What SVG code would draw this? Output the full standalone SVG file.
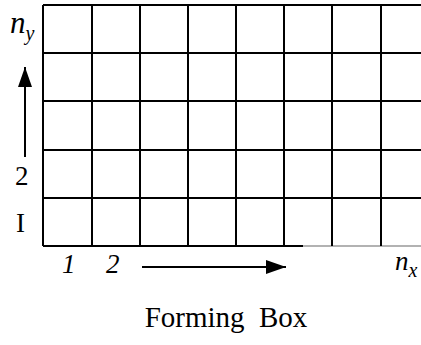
<svg xmlns="http://www.w3.org/2000/svg" width="421" height="345" viewBox="0 0 421 345">
<style>
.g{stroke:#000;stroke-width:2;fill:none}
.t{font-family:"Liberation Serif","Times New Roman","DejaVu Serif",serif;font-size:27px;fill:#000}
.i{font-style:italic}
.n{font-size:31px}
.s{font-size:20px}
.c{font-size:29px}
</style>
<defs>
<marker id="ah2" markerWidth="20" markerHeight="14" refX="20" refY="7" orient="auto" markerUnits="userSpaceOnUse">
<path d="M0,0 L20,7 L0,14 Z" fill="#000"/>
</marker>
</defs>
<g id="grid">
<path class="g" d="M43,5 H421 M43,53 H421 M43,101 H421 M43,150 H421 M43,198 H421 M43,246 H303"/>
<path d="M303,246 H421" stroke="#666" stroke-width="1.2"/>
<path class="g" d="M43,5 V246 M92,5 V246 M140,5 V246 M188,5 V246 M236,5 V246 M284,5 V246 M332,5 V246 M381,5 V246"/>
</g>
<g id="connectors">
<line x1="25" y1="157" x2="25" y2="67" stroke="#000" stroke-width="2" marker-end="url(#ah2)"/>
<line x1="142" y1="267" x2="286" y2="267" stroke="#000" stroke-width="2" marker-end="url(#ah2)"/>
</g>
<g id="labels">
<text class="t i n" x="10" y="33">n<tspan class="s" dy="7">y</tspan></text>
<text class="t" x="15" y="185">2</text>
<text class="t" x="16" y="232">I</text>
<text class="t i" x="62" y="273">1</text>
<text class="t i" x="106" y="273">2</text>
<text class="t i" x="395" y="270">n<tspan class="s" dy="7">x</tspan></text>
<text class="t c" x="226" y="327" text-anchor="middle" xml:space="preserve">Forming  Box</text>
</g>
</svg>
